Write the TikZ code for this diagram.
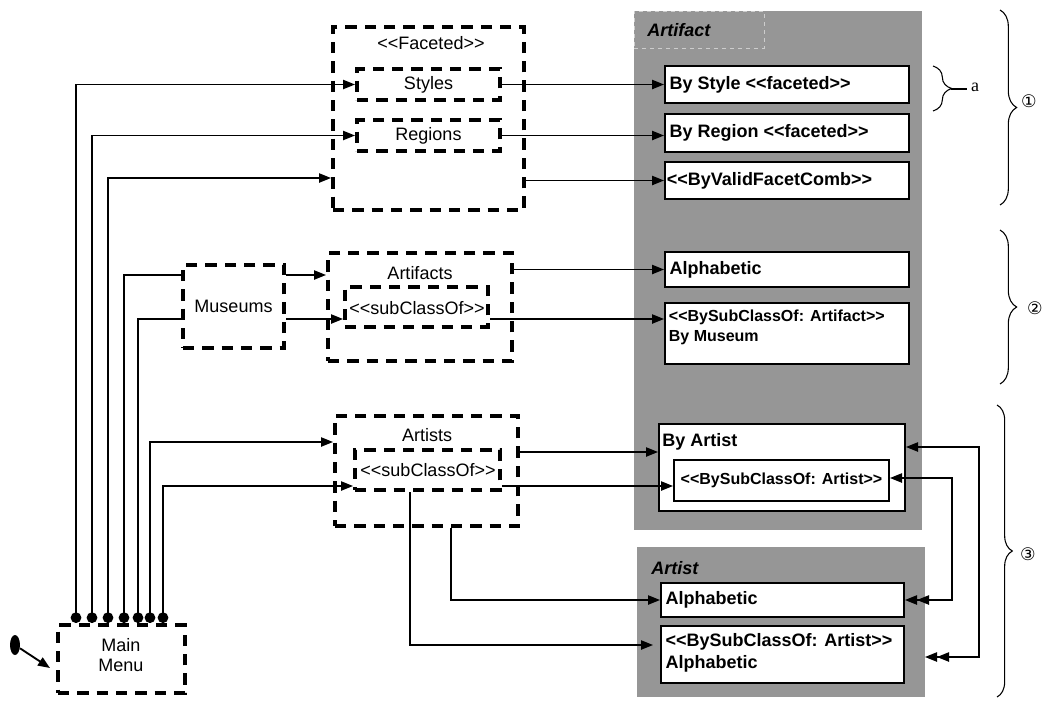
\documentclass[tikz,border=0pt]{standalone}
\usepackage{fontspec}
\setmainfont{Liberation Sans}
\newfontfamily\serifabc{Liberation Serif}
\newfontfamily\symfont{DejaVu Sans}
\usetikzlibrary{arrows.meta,decorations.pathreplacing,fit,shapes.geometric}
\definecolor{panel}{RGB}{150,150,150}
\definecolor{tabline}{RGB}{205,205,205}
\newcommand{\lstereo}{<{}<}
\newcommand{\rstereo}{>{}>}
\begin{document}
\begin{tikzpicture}[x=0.75pt,y=-0.75pt,
  every node/.style={font=\fontsize{13.5}{16}\selectfont},
  dbox/.style={draw, line width=3pt, dash pattern=on 8.5pt off 6pt, inner sep=0pt},
  wbox/.style={draw, fill=white, line width=1.5pt, inner sep=0pt},
  panelbox/.style={fill=panel, inner sep=0pt},
  tabbox/.style={draw=tabline, dashed, line width=0.6pt, inner sep=0pt},
  txt/.style={inner sep=0pt, align=center},
  ptitle/.style={font=\fontsize{13.5}{16}\selectfont\bfseries\itshape, inner sep=0pt, anchor=west},
  blbl/.style={font=\fontsize{13.5}{16.5}\selectfont\bfseries, inner sep=0pt, anchor=west, align=left},
  slbl/.style={font=\fontsize{12}{15}\selectfont\bfseries, inner sep=0pt, align=left},
  plain/.style={line width=1pt},
  conn/.style={line width=1pt, -{Triangle[length=9pt,width=7pt]}},
  mmline/.style={line width=1pt, {Circle[length=8pt]}-{Triangle[length=9pt,width=7pt]}},
  mmplain/.style={line width=1pt, {Circle[length=8pt]}-},
  twoway/.style={line width=1pt, {Triangle[length=9pt,width=7pt]}-{Triangle[length=9pt,width=7pt]Triangle[length=9pt,width=7pt]}},
  brc/.style={line width=0.8pt, decorate},
  digit/.style={font=\symfont\fontsize{13}{14}\selectfont, inner sep=0pt}
]
\useasboundingbox (0,0) rectangle (1043,704);

% panels
\node[panelbox, fit={(634,11) (922,530)}] (artifactpanel) {};
\node[panelbox, fit={(637,547) (925,697)}] (artistpanel) {};
\node[tabbox, fit={(634,11) (764,48)}] (tab) {};
\node[ptitle] (artifacttitle) at (647,30) {Artifact};
\node[ptitle] (artisttitle) at (651,568) {Artist};

% white boxes
\node[wbox, fit={(665,66) (909,103)}] (bystyle) {};
\node[blbl] (bystyletxt) at ([xshift=4pt]bystyle.west) {By Style \lstereo faceted\rstereo};
\node[wbox, fit={(665,114) (909,152)}] (byregion) {};
\node[blbl] (byregiontxt) at ([xshift=4pt]byregion.west) {By Region \lstereo faceted\rstereo};
\node[wbox, fit={(665,162) (909,199)}] (bvfc) {};
\node[blbl] (bvfctxt) at ([xshift=2pt]bvfc.west) {\lstereo ByValidFacetComb\rstereo};
\node[wbox, fit={(665,252) (909,287)}] (alph1) {};
\node[blbl] (alph1txt) at ([xshift=4pt]alph1.west) {Alphabetic};
\node[wbox, fit={(665,303) (909,364)}] (bysubartifact) {};
\node[slbl, anchor=north west] (bysubartifacttxt) at ([shift={(3.5pt,-5.5pt)}]bysubartifact.north west) {\lstereo BySubClassOf: Artifact\rstereo\\By Museum};
\node[wbox, fit={(659,424) (905,511)}] (byartist) {};
\node[blbl] (byartisttxt) at ([shift={(3pt,-14pt)}]byartist.north west) {By Artist};
\node[wbox, fit={(674,460) (889,501)}] (bysubartist) {};
\node[slbl] (bysubartisttxt) at (bysubartist.center) {\lstereo BySubClassOf: Artist\rstereo};
\node[wbox, fit={(661,583) (904,617)}] (alph2) {};
\node[blbl] (alph2txt) at ([xshift=4pt]alph2.west) {Alphabetic};
\node[wbox, fit={(661,626) (904,683)}] (bysubalpha) {};
\node[blbl, anchor=north west] (bysubalphatxt) at ([shift={(4pt,-6pt)}]bysubalpha.north west) {\lstereo BySubClassOf: Artist\rstereo\\Alphabetic};

% dashed boxes
\node[dbox, fit={(333,27) (524,210)}] (faceted) {};
\node[txt] (facetedtitle) at (431,43) {\lstereo Faceted\rstereo};
\node[dbox, fit={(357,69) (500,100)}] (styles) {};
\node[txt] (stylestxt) at (styles.center) {Styles};
\node[dbox, fit={(357,120) (500,151)}] (regions) {};
\node[txt] (regionstxt) at (regions.center) {Regions};
\node[dbox, fit={(183,265) (284,348)}] (museums) {};
\node[txt] (museumstxt) at (museums.center) {Museums};
\node[dbox, fit={(328,253) (512,361)}] (artifacts) {};
\node[txt] (artifactstitle) at (420,273) {Artifacts};
\node[dbox, fit={(345,287) (488,327)}] (sub1) {};
\node[txt] (sub1txt) at (417,308) {\lstereo subClassOf\rstereo};
\node[dbox, fit={(335,416) (518,526)}] (artists) {};
\node[txt] (artiststitle) at (427,435) {Artists};
\node[dbox, fit={(355,450) (500,490)}] (sub2) {};
\node[txt] (sub2txt) at (428,470) {\lstereo subClassOf\rstereo};
\node[dbox, fit={(58,625) (185,693)}] (mainmenu) {};
\node[txt, font=\fontsize{13.5}{15}\selectfont] (mainmenutxt) at (121,655) {Main\\Menu};

% start
\node[ellipse, fill, minimum width=7.5pt, minimum height=15pt, inner sep=0pt] (start) at (15,645) {};
\draw[conn, line width=1.4pt] (start) -- ([shift={(-4.5pt,-6.75pt)}]mainmenu.west);

% helper coordinates
\coordinate (m1) at (76,623);
\coordinate (m2) at (92,623);
\coordinate (m3) at (108,623);
\coordinate (m4) at (124,623);
\coordinate (m5) at (138,623);
\coordinate (m6) at (150,623);
\coordinate (m7) at (163,623);
\coordinate (yfac) at (0,178);
\coordinate (ymus1) at (0,275);
\coordinate (ymus2) at (0,319);
\coordinate (yart1) at (0,442);
\coordinate (yart3) at (0,452);
\coordinate (yart2) at (0,486);
\coordinate (ylow) at (0,645);
\coordinate (xa) at (451,0);
\coordinate (xb) at (410,0);
\coordinate (xe) at (653,0);
\coordinate (yl1) at (0,447);
\coordinate (yl2) at (0,657);
\coordinate (xl1) at (979,0);
\coordinate (xd) at (925,0);
\coordinate (yl3) at (0,478);
\coordinate (yl4) at (0,600);
\coordinate (xl2) at (952,0);

% main menu connectors
\draw[mmline] (m1) |- (styles.west);
\draw[mmline] (m2) |- (regions.west);
\draw[mmline] (m3) |- (yfac -| faceted.west);
\draw[mmplain] (m4) |- (ymus1 -| museums.west);
\draw[mmplain] (m5) |- (ymus2 -| museums.west);
\draw[mmline] (m6) |- (yart1 -| artists.west);
\draw[mmline] (m7) |- (yart2 -| sub2.west);
\draw[conn] (ymus1 -| museums.east) -- (ymus1 -| artifacts.west);
\draw[conn] (ymus2 -| museums.east) -- (ymus2 -| sub1.west);

% outputs
\draw[conn] (styles.east) -- (styles.east -| bystyle.west);
\draw[conn] (regions.east) -- (regions.east -| byregion.west);
\draw[conn] (faceted.east |- bvfc.west) -- (bvfc.west);
\draw[conn] (artifacts.east |- alph1.west) -- (alph1.west);
\draw[conn] (ymus2 -| sub1.east) -- (ymus2 -| bysubartifact.west);
\draw[conn] (yart3 -| artists.east) -- (yart3 -| byartist.west);
\draw[conn] (yart2 -| sub2.east) -- (yart2 -| bysubartist.west);
\draw[conn] (xa |- artists.south) |- (alph2.west);
\draw[conn] (xb |- sub2.south) |- (xe |- ylow);

% loops on right
\draw[twoway] (yl1 -| byartist.east) -| (xl1 |- yl2) -- (xd |- yl2);
\draw[twoway] (yl3 -| bysubartist.east) -| (xl2 |- yl4) -- (yl4 -| alph2.east);

% braces
\draw[brc, decoration={brace, amplitude=14pt}] (933,66) -- (933,111);
\draw[line width=0.8pt] (951,89) -- (967,89);
\node[font=\serifabc\fontsize{13.5}{16}\selectfont, inner sep=0pt] (laba) at (975,87) {a};
\draw[brc, decoration={brace, amplitude=12.5pt}] (1000,10) -- (1000,205);
\node[digit] (lab1) at (1029,101) {①};
\draw[brc, decoration={brace, amplitude=12.5pt}] (1000,230) -- (1000,384);
\node[digit] (lab2) at (1035,308) {②};
\draw[brc, decoration={brace, amplitude=11.5pt}] (997,405) -- (997,697);
\node[digit] (lab3) at (1028,554) {③};
\end{tikzpicture}
\end{document}
